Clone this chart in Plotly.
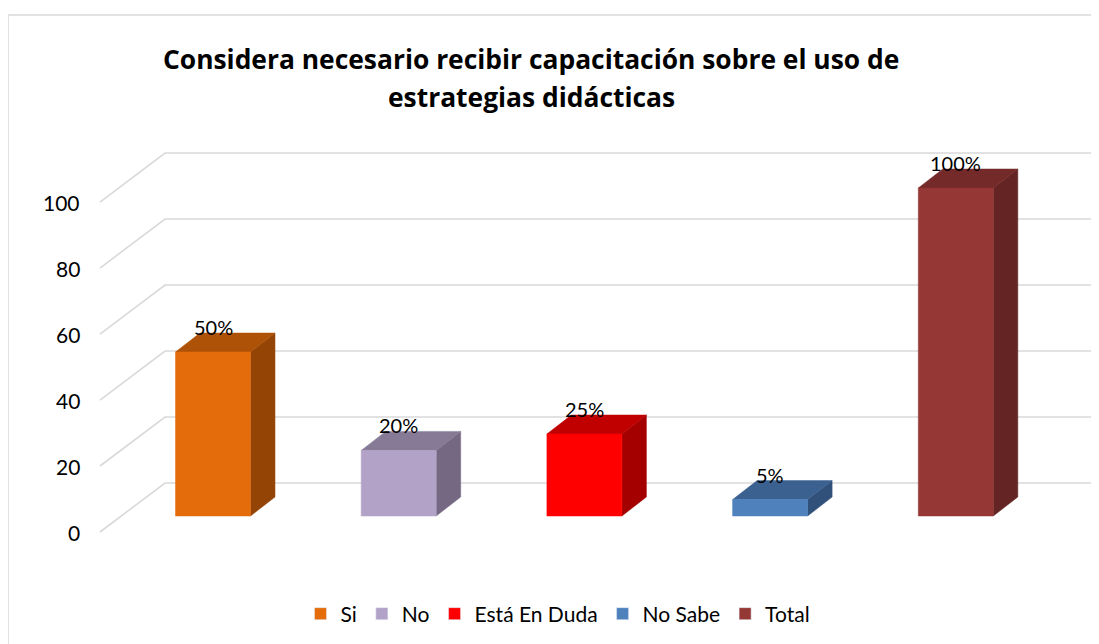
import plotly.graph_objects as go

# ---------------- data ----------------
categories = ["Si", "No", "Está En Duda", "No Sabe", "Total"]
values = [50, 20, 25, 5, 100]
value_labels = ["50%", "20%", "25%", "5%", "100%"]
y_ticks = [0, 20, 40, 60, 80, 100]
title_lines = ["Considera necesario recibir capacitación sobre el uso de",
               "estrategias didácticas"]

front_colors = ["#E46C0A", "#B3A2C7", "#FF0000", "#4F81BD", "#953735"]
top_colors = ["#AE5207", "#877A97", "#C00000", "#3B6190", "#742A29"]
side_colors = ["#944506", "#756883", "#A40000", "#31507A", "#632423"]

# ---------------- geometry (style) ----------------
OFF = 8  # page body margin of the html page
W, H = 1099 - OFF, 644 - OFF


def px(v):
    return v - OFF


PLOT_L, PLOT_R, PLOT_T, PLOT_B = px(90), W, px(140), px(545)
CAT0_PX, STEP_PX = px(213.0), 185.7    # category centre spacing in px
BASE_PX, UNIT_PX = px(516.0), 3.28     # bar-plane zero and px per unit
BAR_HALF = 37.5 / STEP_PX
DEPTH_DX = 24.5 / STEP_PX
DEPTH_DY = 19.0 / UNIT_PX
BACK_OFF, BACK_SCALE = 10.06, 1.006
FRONT_OFF, FRONT_SCALE = -4.88, 1.006
BACK_X = (px(165) - CAT0_PX) / STEP_PX
FRONT_X = (px(100) - CAT0_PX) / STEP_PX
GRID_RIGHT = (px(1096) - CAT0_PX) / STEP_PX

x_range = [(PLOT_L - CAT0_PX) / STEP_PX, (PLOT_R - CAT0_PX) / STEP_PX]
y_range = [(BASE_PX - PLOT_B) / UNIT_PX, (BASE_PX - PLOT_T) / UNIT_PX]
ph = PLOT_B - PLOT_T
pw = PLOT_R - PLOT_L

FONT = "Lato, 'Open Sans', sans-serif"
TITLE_FONT = "'Open Sans', Lato, sans-serif"
GRID_COLOR = "#D9D9D9"

fig = go.Figure()

# gridlines: diagonal side lines + back wall lines
gx, gy = [], []
for t in y_ticks:
    fy = FRONT_OFF + FRONT_SCALE * t
    by = BACK_OFF + BACK_SCALE * t
    gx += [FRONT_X, BACK_X, GRID_RIGHT, None]
    gy += [fy, by, by, None]
fig.add_trace(go.Scatter(x=gx, y=gy, mode="lines",
                         line=dict(color=GRID_COLOR, width=1.6),
                         hoverinfo="skip", showlegend=False))

# 3D-looking bars
for i, (cat, v) in enumerate(zip(categories, values)):
    c = i
    l, r = c - BAR_HALF, c + BAR_HALF
    fig.add_trace(go.Scatter(
        x=[r, r + DEPTH_DX, r + DEPTH_DX, r, r],
        y=[0, DEPTH_DY, v + DEPTH_DY, v, 0],
        fill="toself", fillcolor=side_colors[i], mode="lines",
        line=dict(width=0.5, color=side_colors[i]),
        hoverinfo="skip", showlegend=False))
    fig.add_trace(go.Scatter(
        x=[l, r, r + DEPTH_DX, l + DEPTH_DX, l],
        y=[v, v, v + DEPTH_DY, v + DEPTH_DY, v],
        fill="toself", fillcolor=top_colors[i], mode="lines",
        line=dict(width=0.5, color=top_colors[i]),
        hoverinfo="skip", showlegend=False))
    fig.add_trace(go.Scatter(
        x=[l, r, r, l, l],
        y=[0, 0, v, v, 0],
        fill="toself", fillcolor=front_colors[i], mode="lines",
        line=dict(width=0.5, color=front_colors[i]),
        name=cat, hovertemplate=f"{cat}: {v}<extra></extra>",
        showlegend=False))

# legend entries
for i, cat in enumerate(categories):
    fig.add_trace(go.Bar(x=[None], y=[None], name=cat,
                         marker=dict(color=front_colors[i]),
                         showlegend=True))

annotations = []
for i, (v, lab) in enumerate(zip(values, value_labels)):
    annotations.append(dict(x=i, y=v, xref="x", yref="y", text=lab,
                            showarrow=False, yshift=25,
                            xanchor="center", yanchor="middle",
                            font=dict(family=FONT, size=20, color="#000000")))
for t in y_ticks:
    annotations.append(dict(x=(px(82) - PLOT_L) / pw,
                            y=FRONT_OFF + FRONT_SCALE * t,
                            xref="paper", yref="y", text=str(t),
                            showarrow=False,
                            xanchor="right", yanchor="middle",
                            font=dict(family=FONT, size=21, color="#000000")))
for line, ypx in zip(title_lines, [59, 97]):
    annotations.append(dict(x=(px(531) - PLOT_L) / pw,
                            y=(PLOT_B - px(ypx)) / ph,
                            xref="paper", yref="paper", text=f"<b>{line}</b>",
                            showarrow=False, xanchor="center",
                            yanchor="middle",
                            font=dict(family=TITLE_FONT, size=26.4,
                                      color="#000000")))

fig.update_layout(
    width=W, height=H, autosize=False,
    margin=dict(l=PLOT_L, r=W - PLOT_R, t=PLOT_T, b=H - PLOT_B, pad=0),
    paper_bgcolor="white", plot_bgcolor="white",
    xaxis=dict(range=x_range, visible=False, fixedrange=True),
    yaxis=dict(range=y_range, visible=False, fixedrange=True),
    showlegend=True,
    legend=dict(orientation="h", x=(px(558) - PLOT_L) / pw, xanchor="center",
                y=(PLOT_B - px(614)) / ph, yanchor="middle",
                font=dict(family=FONT, size=21, color="#000000"),
                bgcolor="rgba(0,0,0,0)", traceorder="normal"),
    annotations=annotations,
    shapes=[dict(type="rect", xref="paper", yref="paper",
                 x0=(px(8) - PLOT_L) / pw, x1=1.3,
                 y0=-1.0, y1=(PLOT_B - px(15)) / ph,
                 line=dict(color="#D9D9D9", width=1.5),
                 fillcolor="rgba(0,0,0,0)", layer="below")],
)

fig.write_html("out.html")
